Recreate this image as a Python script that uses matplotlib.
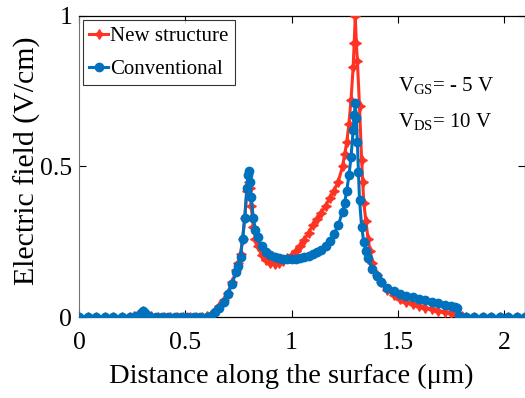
import matplotlib
matplotlib.use("Agg")
import matplotlib.pyplot as plt

plt.rcParams['font.family'] = ['Liberation Serif', 'DejaVu Serif']
plt.rcParams['mathtext.fontset'] = 'custom'
plt.rcParams['mathtext.rm'] = 'Liberation Serif'
plt.rcParams['mathtext.it'] = 'Liberation Serif:italic'

# Conventional (blue)
x_conv = [0, 0.04, 0.08, 0.12, 0.16, 0.20, 0.24, 0.27, 0.29, 0.30, 0.31, 0.33,
          0.36, 0.39, 0.42, 0.45, 0.48, 0.51, 0.54, 0.57, 0.60, 0.62, 0.64, 0.66,
          0.68, 0.70, 0.72, 0.74, 0.75, 0.76, 0.77, 0.78, 0.79, 0.795, 0.80, 0.805,
          0.81, 0.82, 0.83, 0.84, 0.86, 0.88, 0.90, 0.92, 0.94, 0.96, 0.98, 1.00,
          1.02, 1.04, 1.06, 1.08, 1.10, 1.12, 1.14, 1.16, 1.18, 1.20, 1.22, 1.24,
          1.25, 1.26, 1.27, 1.28, 1.29, 1.295, 1.30, 1.305, 1.31, 1.315, 1.32, 1.33,
          1.34, 1.35, 1.36, 1.38, 1.40, 1.42, 1.45, 1.48, 1.51, 1.54, 1.57, 1.60,
          1.63, 1.66, 1.69, 1.72, 1.75, 1.77, 1.78, 1.79, 1.82, 1.86, 1.90, 1.94,
          1.98, 2.02, 2.06, 2.10]
y_conv = [0, 0, 0, 0, 0, 0, 0, 0.005, 0.012, 0.02, 0.012, 0.005,
          0, 0, 0, 0, 0, 0, 0, 0, 0, 0.005, 0.015, 0.03,
          0.05, 0.075, 0.11, 0.15, 0.17, 0.20, 0.26, 0.33, 0.43, 0.47, 0.485, 0.45,
          0.40, 0.33, 0.29, 0.265, 0.235, 0.215, 0.205, 0.198, 0.195, 0.193, 0.193, 0.193,
          0.194, 0.196, 0.199, 0.203, 0.208, 0.215, 0.224, 0.236, 0.252, 0.275, 0.305, 0.35,
          0.38, 0.42, 0.47, 0.53, 0.62, 0.67, 0.71, 0.66, 0.58, 0.48, 0.39, 0.30,
          0.25, 0.22, 0.195, 0.16, 0.135, 0.115, 0.095, 0.085, 0.077, 0.071, 0.066, 0.061,
          0.056, 0.051, 0.046, 0.041, 0.036, 0.033, 0.03, 0.005, 0, 0, 0, 0,
          0, 0, 0, 0]

# New structure (red)
x_new = [0, 0.04, 0.08, 0.12, 0.16, 0.20, 0.24, 0.26, 0.28, 0.30, 0.32, 0.34,
         0.37, 0.40, 0.43, 0.46, 0.49, 0.52, 0.55, 0.58, 0.60, 0.62, 0.64, 0.66,
         0.68, 0.70, 0.72, 0.74, 0.75, 0.76, 0.77, 0.78, 0.79, 0.80, 0.805, 0.81,
         0.82, 0.83, 0.84, 0.86, 0.88, 0.90, 0.92, 0.94, 0.96, 0.98, 1.00, 1.02,
         1.04, 1.06, 1.08, 1.10, 1.12, 1.14, 1.16, 1.18, 1.20, 1.22, 1.24, 1.25,
         1.26, 1.27, 1.28, 1.29, 1.295, 1.30, 1.305, 1.31, 1.32, 1.33, 1.335, 1.34,
         1.35, 1.36, 1.37, 1.38, 1.40, 1.42, 1.45, 1.48, 1.51, 1.54, 1.57, 1.60,
         1.63, 1.66, 1.69, 1.72, 1.75, 1.78, 1.80, 1.82, 1.86, 1.90, 1.94, 1.98,
         2.02, 2.06, 2.10]
y_new = [0, 0, 0, 0, 0, 0, 0, 0.003, 0.008, 0.02, 0.008, 0.003,
         0, 0, 0, 0, 0, 0, 0, 0, 0.002, 0.008, 0.02, 0.035,
         0.055, 0.08, 0.115, 0.155, 0.18, 0.21, 0.26, 0.33, 0.42, 0.45, 0.43, 0.37,
         0.30, 0.26, 0.235, 0.205, 0.188, 0.178, 0.175, 0.178, 0.185, 0.195, 0.207, 0.22,
         0.235, 0.255, 0.28, 0.305, 0.325, 0.345, 0.37, 0.395, 0.42, 0.45, 0.50, 0.54,
         0.58, 0.64, 0.72, 0.83, 0.91, 1.0, 0.91, 0.85, 0.70, 0.52, 0.45, 0.38,
         0.32, 0.26, 0.22, 0.18, 0.14, 0.115, 0.09, 0.072, 0.06, 0.051, 0.044, 0.037,
         0.031, 0.026, 0.021, 0.016, 0.012, 0.008, 0.004, 0, 0, 0, 0, 0,
         0, 0, 0]

x_ticks = [0, 0.5, 1, 1.5, 2]
x_ticklabels = ['0', '0.5', '1', '1.5', '2']
y_ticks = [0, 0.5, 1]
y_ticklabels = ['0', '0.5', '1']

red = '#FF3322'
blue = '#0072BD'

fig = plt.figure(figsize=(5.25, 3.98), dpi=100)
ax = fig.add_axes([0.1505, 0.2035, 0.85, 0.7565])

ax.plot(x_new, y_new, color=red, lw=2.2, marker=(4, 1, 0), ms=7,
        label='New structure', zorder=3)
ax.plot(x_conv, y_conv, color=blue, lw=2.2, marker='o', ms=6,
        label='Conventional', zorder=4)

ax.set_xlim(0, 2.1)
ax.set_ylim(0, 1)
ax.set_xticks(x_ticks)
ax.set_xticklabels(x_ticklabels)
ax.set_yticks(y_ticks)
ax.set_yticklabels(y_ticklabels)
ax.tick_params(direction='in', length=5, width=0.8, labelsize=18.5,
               top=True, right=True)
ax.tick_params(axis='x', pad=11)
ax.tick_params(axis='y', pad=5)
for s in ['top', 'bottom', 'right']:
    ax.spines[s].set_linewidth(0.9)
    ax.spines[s].set_color('black')
ax.spines['left'].set_linewidth(0.8)
ax.spines['left'].set_color('0.45')

ax.set_xlabel('Distance along the surface (\u03bcm)', fontsize=20.5, labelpad=7)
ax.set_ylabel('Electric field (V/cm)', fontsize=21.5, labelpad=-1)
ax.xaxis.label.set_x(0.476)
ax.yaxis.label.set_y(0.52)

leg = ax.legend(loc='upper left', fontsize=15, frameon=True, fancybox=False,
                borderpad=0.3, handlelength=0.9, handletextpad=0.1,
                labelspacing=0.65, borderaxespad=0.2)
leg.get_frame().set_edgecolor('black')
leg.get_frame().set_linewidth(0.8)

ax.text(1.5, 0.75, r'V$_{\mathrm{GS}}$= - 5 V', fontsize=15)
ax.text(1.5, 0.63, r'V$_{\mathrm{DS}}$= 10 V', fontsize=15)

fig.savefig('out.png', dpi=100)
